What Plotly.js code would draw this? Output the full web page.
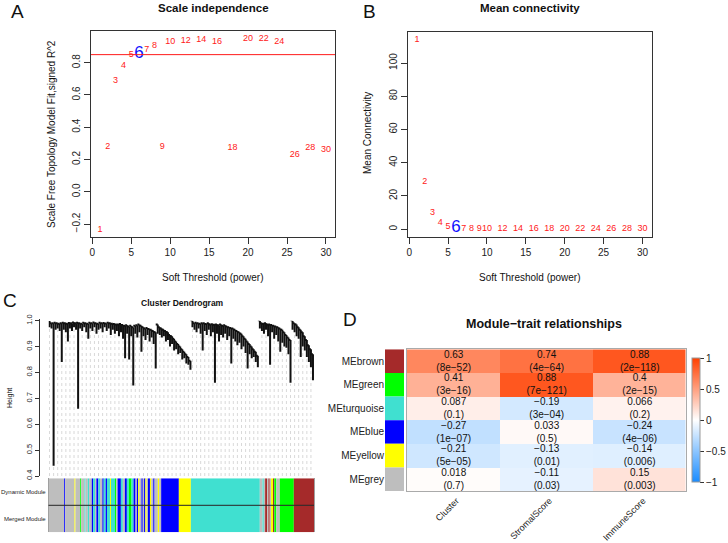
<!DOCTYPE html>
<html>
<head>
<meta charset="utf-8">
<script src="https://cdn.plot.ly/plotly-3.0.1.min.js"></script>
<style>
  html, body { margin: 0; padding: 0; background: #fff; }
  #chart { width: 728px; height: 543px; }
</style>
</head>
<body>
<div id="chart"></div>
<script>
// Soft threshold scan (panels A and B)
const powers = [1, 2, 3, 4, 5, 6, 7, 8, 9, 10, 12, 14, 16, 18, 20, 22, 24, 26, 28, 30]
const sftR2 = [-0.233, 0.281, 0.688, 0.783, 0.848, 0.858, 0.879, 0.904, 0.281, 0.931, 0.937, 0.945, 0.927, 0.271, 0.951, 0.949, 0.927, 0.229, 0.273, 0.261]
const meanK = [114.3, 28.8, 9.7, 4.0, 1.6, 0.6, 0.3, 0.17, 0.1, 0.06, 0.03, 0.02, 0.01, 0.01, 0.01, 0.01, 0.01, 0.01, 0.01, 0.01]
const chosenPower = 6
const r2Cutoff = 0.85

// Gene dendrogram (panel C): leaf heights and the height each leaf joins its neighbour
const leafHeight = [
  0.975, 0.97, 0.44, 0.965, 0.97, 0.96, 0.84, 0.965, 0.955, 0.92,
  0.97, 0.96, 0.975, 0.965, 0.66, 0.97, 0.96, 0.975, 0.955, 0.93,
  0.97, 0.96, 0.975, 0.95, 0.965, 0.97, 0.955, 0.975, 0.96, 0.97,
  0.945, 0.965, 0.95, 0.96, 0.94, 0.955, 0.93, 0.855, 0.95, 0.85,
  0.94, 0.75, 0.95, 0.935, 0.955, 0.88, 0.94, 0.925, 0.945, 0.92,
  0.935, 0.91, 0.815, 0.95, 0.945, 0.935, 0.94, 0.92, 0.925, 0.90,
  0.91, 0.885, 0.89, 0.87, 0.875, 0.85, 0.855, 0.835, 0.83, 0.81,
  0.975, 0.965, 0.955, 0.97, 0.95, 0.885, 0.96, 0.945, 0.965, 0.94,
  0.955, 0.76, 0.95, 0.92, 0.945, 0.935, 0.95, 0.925, 0.94, 0.835,
  0.93, 0.92, 0.905, 0.915, 0.89, 0.90, 0.875, 0.815, 0.87, 0.855,
  0.86, 0.84, 0.82, 0.97, 0.96, 0.95, 0.965, 0.94, 0.83, 0.955,
  0.93, 0.945, 0.92, 0.88, 0.915, 0.90, 0.895, 0.87, 0.76, 0.965,
  0.955, 0.94, 0.93, 0.86, 0.90, 0.885, 0.86, 0.84, 0.82, 0.77
]
const mergeHeight = [
  0.999, 0.99, 0.99, 0.992, 0.99, 0.988, 0.99, 0.992, 0.99, 0.988,
  0.991, 0.99, 0.993, 0.99, 0.992, 0.99, 0.988, 0.992, 0.99, 0.988,
  0.992, 0.99, 0.993, 0.99, 0.988, 0.992, 0.99, 0.991, 0.989, 0.992,
  0.99, 0.988, 0.987, 0.985, 0.985, 0.987, 0.983, 0.98, 0.982, 0.978,
  0.98, 0.975, 0.98, 0.982, 0.985, 0.98, 0.975, 0.97, 0.972, 0.968,
  0.965, 0.96, 0.955, 0.985, 0.975, 0.97, 0.965, 0.96, 0.955, 0.945,
  0.94, 0.93, 0.92, 0.91, 0.90, 0.89, 0.88, 0.87, 0.86, 0.845,
  0.999, 0.99, 0.992, 0.99, 0.988, 0.99, 0.99, 0.987, 0.99, 0.985,
  0.986, 0.984, 0.985, 0.982, 0.985, 0.98, 0.982, 0.978, 0.975, 0.972,
  0.97, 0.965, 0.96, 0.955, 0.95, 0.94, 0.93, 0.92, 0.91, 0.90,
  0.89, 0.88, 0.865, 0.999, 0.99, 0.988, 0.99, 0.985, 0.985, 0.983,
  0.98, 0.978, 0.975, 0.97, 0.965, 0.955, 0.945, 0.935, 0.925, 0.999,
  0.99, 0.985, 0.975, 0.965, 0.955, 0.94, 0.925, 0.905, 0.89, 0.87
]

// Module colour strip under the dendrogram (left to right, widths in strip units)
const stripColors = [
  'grey', 'blue', 'grey', 'yellow', 'grey', 'green', 'grey', 'turquoise', 'grey', 'turquoise',
  'grey', 'blue', 'turquoise', 'grey', 'blue', 'turquoise', 'grey', 'blue', 'turquoise', 'blue',
  'turquoise', 'yellow', 'turquoise', 'green', 'grey', 'blue', 'turquoise', 'grey', 'blue', 'turquoise',
  'green', 'turquoise', 'blue', 'grey', 'blue', 'yellow', 'grey', 'blue', 'grey', 'blue',
  'yellow', 'grey', 'blue', 'yellow', 'grey', 'blue', 'grey', 'yellow', 'grey', 'blue',
  'yellow', 'turquoise', 'grey', 'turquoise', 'grey', 'brown', 'grey', 'brown', 'grey', 'yellow',
  'brown', 'green', 'grey', 'green', 'brown'
]
const stripWidths = [
  15.7, 1, 9.3, 1, 4.7, 1, 3.3, 1, 2.3, 1.3,
  2.7, 1.3, 2, 1.3, 2, 1.7, 2.3, 1.3, 2, 1.3,
  3, 1, 4, 1.3, 1.3, 3.3, 2, 2, 2, 2,
  2.7, 2, 2, 1.3, 1.3, 1.3, 2, 1.3, 1.3, 1.3,
  1.3, 1.3, 2, 1.3, 2, 1.3, 3.3, 1.3, 2, 17.7,
  12, 69, 2.7, 1.3, 1.3, 2, 1.3, 1.3, 1.3, 2,
  1.3, 2, 3.5, 14, 20.2
]
const stripRows = ['Merged Module', 'Dynamic Module']

// Module-trait relationships (panel D)
const modules = ['MEbrown', 'MEgreen', 'MEturquoise', 'MEblue', 'MEyellow', 'MEgrey']
const moduleColors = ['brown', '#00ff00', 'turquoise', 'blue', 'yellow', '#bebebe']
const traits = ['Cluster', 'StromalScore', 'ImmuneScore']
const moduleCor = [
  [0.63, 0.74, 0.88],
  [0.41, 0.88, 0.4],
  [0.087, -0.19, 0.066],
  [-0.27, 0.033, -0.24],
  [-0.21, -0.13, -0.14],
  [0.018, -0.11, 0.15]
]
const modulePval = [
  ['8e-52', '4e-64', '2e-118'],
  ['3e-16', '7e-121', '2e-15'],
  ['0.1', '3e-04', '0.2'],
  ['1e-07', '0.5', '4e-06'],
  ['5e-05', '0.01', '0.006'],
  ['0.7', '0.03', '0.003']
]

const W = 728
const H = 543
const font = 'Liberation Sans, Arial, Helvetica, sans-serif'
const ink = '#222'
const namedColor = { grey: '#bebebe', blue: '#0000ff', yellow: '#ffff00', green: '#00ff00', turquoise: '#40e0d0', brown: '#a52a2a' }

// pixel helpers for layout placement
const px = x => x / W
const py = y => 1 - y / H

// R style axis range: data range padded by 4%
function rRange(values) {
  const lo = Math.min(...values)
  const hi = Math.max(...values)
  const pad = (hi - lo) * 0.04
  return [lo - pad, hi + pad]
}

const minus = s => String(s).replace(/-/g, '\u2212')

function boxAxis(extra) {
  return Object.assign({
    showline: true, mirror: true, linecolor: '#333', linewidth: 1,
    ticks: 'outside', ticklen: 6, tickcolor: '#333',
    showgrid: false, zeroline: false, fixedrange: true,
    tickfont: { family: font, size: 10, color: ink }
  }, extra)
}

// Panel A and B text markers
const labelColor = powers.map(p => (p === chosenPower ? '#1010ff' : '#ff2020'))
const labelSize = powers.map(p => (p === chosenPower ? 17 : 9))

const traceScale = {
  x: powers, y: sftR2, mode: 'text', text: powers.map(String),
  textfont: { family: font, color: labelColor, size: labelSize },
  cliponaxis: false, xaxis: 'x', yaxis: 'y', hoverinfo: 'skip'
}
const traceConn = {
  x: powers, y: meanK, mode: 'text', text: powers.map(String),
  textfont: { family: font, color: labelColor, size: labelSize },
  cliponaxis: false, xaxis: 'x2', yaxis: 'y2', hoverinfo: 'skip'
}

// Dendrogram segments built from the leaf arrays
const stemX = []
const stemY = []
const topX = []
const topY = []
const guideX = []
const guideY = []
leafHeight.forEach((h, i) => {
  const m = mergeHeight[i]
  stemX.push(i, i, null)
  stemY.push(h, m, null)
  if (i > 0) {
    if (m >= 0.999) {
      topX.push(i - 1, i, null)
      topY.push(m, m, null)
    } else {
      stemX.push(i - 1, i, null)
      stemY.push(m, m, null)
    }
  }
  if (i % 2 === 0) {
    guideX.push(i, i, null)
    guideY.push(0.4, h - 0.004, null)
  }
})

const traceGuide = {
  x: guideX, y: guideY, mode: 'lines', xaxis: 'x3', yaxis: 'y3',
  line: { color: '#cfcfcf', width: 0.8, dash: 'dot' }, hoverinfo: 'skip'
}
const traceTop = {
  x: topX, y: topY, mode: 'lines', xaxis: 'x3', yaxis: 'y3',
  line: { color: '#9a9a9a', width: 1 }, hoverinfo: 'skip'
}
const traceDendro = {
  x: stemX, y: stemY, mode: 'lines', xaxis: 'x3', yaxis: 'y3',
  line: { color: '#111', width: 2 }, hoverinfo: 'skip'
}

// Colour strip: one horizontal bar trace per row
const stripStart = stripWidths.map((w, i) => stripWidths.slice(0, i).reduce((a, b) => a + b, 0))
const stripTotal = stripWidths.reduce((a, b) => a + b, 0)
const stripTraces = stripRows.map(row => ({
  type: 'bar', orientation: 'h',
  y: stripWidths.map(() => row), x: stripWidths, base: stripStart,
  width: 1, marker: { color: stripColors.map(c => namedColor[c]), line: { width: 0 } },
  xaxis: 'x4', yaxis: 'y4', hoverinfo: 'skip'
}))

// Heatmap of module-trait correlations
const cellText = moduleCor.map((row, i) =>
  row.map((r, j) => `${minus(r)}<br>(${minus(modulePval[i][j])})`))

const traceHeat = {
  type: 'heatmap', x: traits, y: modules, z: moduleCor, zmin: -1, zmax: 1,
  text: cellText, texttemplate: '%{text}',
  textfont: { family: font, size: 10, color: '#111' },
  colorscale: [[0, '#1a8cff'], [0.5, '#ffffff'], [1, '#ff4000']],
  xaxis: 'x5', yaxis: 'y5', hoverinfo: 'skip',
  colorbar: {
    x: px(691.5), xanchor: 'left', xpad: 0, ypad: 0,
    y: py(420), yanchor: 'middle', lenmode: 'pixels', len: 124, thickness: 8,
    outlinecolor: '#999', outlinewidth: 1,
    tickvals: [-1, -0.5, 0, 0.5, 1], ticks: 'outside', ticklen: 4, tickcolor: '#333',
    tickfont: { family: font, size: 10, color: ink }
  }
}
const traceSide = {
  type: 'bar', orientation: 'h', y: modules, x: modules.map(() => 1),
  width: 1, marker: { color: moduleColors, line: { width: 0 } },
  xaxis: 'x6', yaxis: 'y6', hoverinfo: 'skip'
}

const letter = (t, x, y) => ({
  text: t, x: px(x), y: py(y), xref: 'paper', yref: 'paper',
  xanchor: 'left', yanchor: 'middle', showarrow: false,
  font: { family: font, size: 19, color: '#111' }
})
const label = (t, x, y, size, bold, angle) => ({
  text: bold ? `<b>${t}</b>` : t, x: px(x), y: py(y), xref: 'paper', yref: 'paper',
  xanchor: 'center', yanchor: 'middle', showarrow: false, textangle: angle || 0,
  font: { family: font, size: size, color: '#111' }
})

// rotated trait names under the heatmap
const traitLabels = traits.map(t => ({
  text: t, x: t, y: py(494), xref: 'x5', yref: 'paper', xshift: 10,
  xanchor: 'right', yanchor: 'top', textangle: -45, showarrow: false,
  borderpad: 0, font: { family: font, size: 9, color: ink }
}))
// row names of the colour strip
const stripLabels = stripRows.map((r, i) => ({
  text: r, x: px(47), y: i, xref: 'paper', yref: 'y4',
  xanchor: 'right', yanchor: 'middle', showarrow: false,
  borderpad: 0, font: { family: font, size: 6, color: ink }
}))

const layout = {
  width: W, height: H,
  margin: { l: 0, r: 0, t: 0, b: 0 },
  paper_bgcolor: '#fff', plot_bgcolor: 'rgba(0,0,0,0)',
  showlegend: false, hovermode: false, barmode: 'overlay',

  xaxis: boxAxis({ domain: [px(91), px(335)], range: rRange(powers), tickvals: [0, 5, 10, 15, 20, 25, 30], anchor: 'y' }),
  yaxis: boxAxis({ domain: [py(237), py(30.7)], range: rRange(sftR2), tickvals: [-0.2, 0, 0.2, 0.4, 0.6, 0.8], tickformat: '.1f', tickangle: -90, anchor: 'x' }),

  xaxis2: boxAxis({ domain: [px(408), px(651.5)], range: rRange(powers), tickvals: [0, 5, 10, 15, 20, 25, 30], anchor: 'y2' }),
  yaxis2: boxAxis({ domain: [py(236.7), py(31.7)], range: rRange(meanK), tickvals: [0, 20, 40, 60, 80, 100], tickangle: -90, anchor: 'x2' }),

  xaxis3: { domain: [px(48.5), px(314)], range: [-0.5, leafHeight.length - 0.5], visible: false, fixedrange: true, anchor: 'y3' },
  yaxis3: {
    domain: [py(476), py(319.4)], range: [0.4, 1.005], anchor: 'free', position: px(39),
    showline: true, linecolor: '#333', linewidth: 1, ticks: 'outside', ticklen: 4, tickcolor: '#333',
    tickvals: [0.4, 0.5, 0.6, 0.7, 0.8, 0.9, 1.0], tickformat: '.1f', tickangle: -90,
    tickfont: { family: font, size: 7.5, color: ink }, showgrid: false, zeroline: false, fixedrange: true
  },

  xaxis4: { domain: [px(48.5), px(314)], range: [0, stripTotal], visible: false, fixedrange: true, anchor: 'y4' },
  yaxis4: {
    domain: [py(532.3), py(478.3)], range: [-0.5, 1.5], anchor: 'x4', type: 'category',
    categoryarray: stripRows, showticklabels: false,
    ticks: '', showgrid: false, zeroline: false, fixedrange: true,
    showline: true, mirror: true, linecolor: '#a0a0a0'
  },

  xaxis5: {
    domain: [px(406.7), px(685.7)], anchor: 'y5', showticklabels: false, ticks: '',
    showline: true, mirror: true, linecolor: '#aaa', showgrid: false, zeroline: false, fixedrange: true
  },
  yaxis5: {
    domain: [py(491), py(349.3)], anchor: 'x5', autorange: 'reversed', showticklabels: false, ticks: '',
    showline: true, mirror: true, linecolor: '#aaa', showgrid: false, zeroline: false, fixedrange: true
  },

  xaxis6: { domain: [px(385), px(404)], range: [0, 1], visible: false, anchor: 'y6', fixedrange: true },
  yaxis6: {
    domain: [py(491), py(349.3)], anchor: 'x6', autorange: 'reversed', ticks: '',
    tickfont: { family: font, size: 10, color: ink }, showgrid: false, zeroline: false, fixedrange: true
  },

  shapes: [
    // soft-threshold cutoff line
    { type: 'line', xref: 'x domain', yref: 'y', x0: 0, x1: 1, y0: r2Cutoff, y1: r2Cutoff, line: { color: '#ff1a1a', width: 1 } },
    // divider between Dynamic and Merged rows
    { type: 'line', xref: 'x4 domain', yref: 'y4 domain', x0: 0, x1: 1, y0: 0.5, y1: 0.5, line: { color: '#222', width: 1 } }
  ],

  annotations: [
    letter('A', 9, 12), letter('B', 361, 12), letter('C', 1, 300), letter('D', 341, 319),
    label('Scale independence', 213, 8, 11.5, true),
    label('Mean connectivity', 530, 8, 11.5, true),
    label('Soft Threshold (power)', 213, 277, 10),
    label('Soft Threshold (power)', 530, 277, 10),
    label('Scale Free Topology Model Fit,signed R^2', 51, 134, 10, false, -90),
    label('Mean Connectivity', 367, 133, 10, false, -90),
    label('Cluster Dendrogram', 182, 303, 8.5, true),
    label('Height', 10, 398, 7, false, -90),
    label('Module\u2212trait relationships', 544, 324, 12.5, true),
    ...traitLabels,
    ...stripLabels
  ]
}

const data = [traceScale, traceConn, traceGuide, traceTop, traceDendro, ...stripTraces, traceHeat, traceSide]

Plotly.newPlot('chart', data, layout, { displayModeBar: false, staticPlot: true })
</script>
</body>
</html>
